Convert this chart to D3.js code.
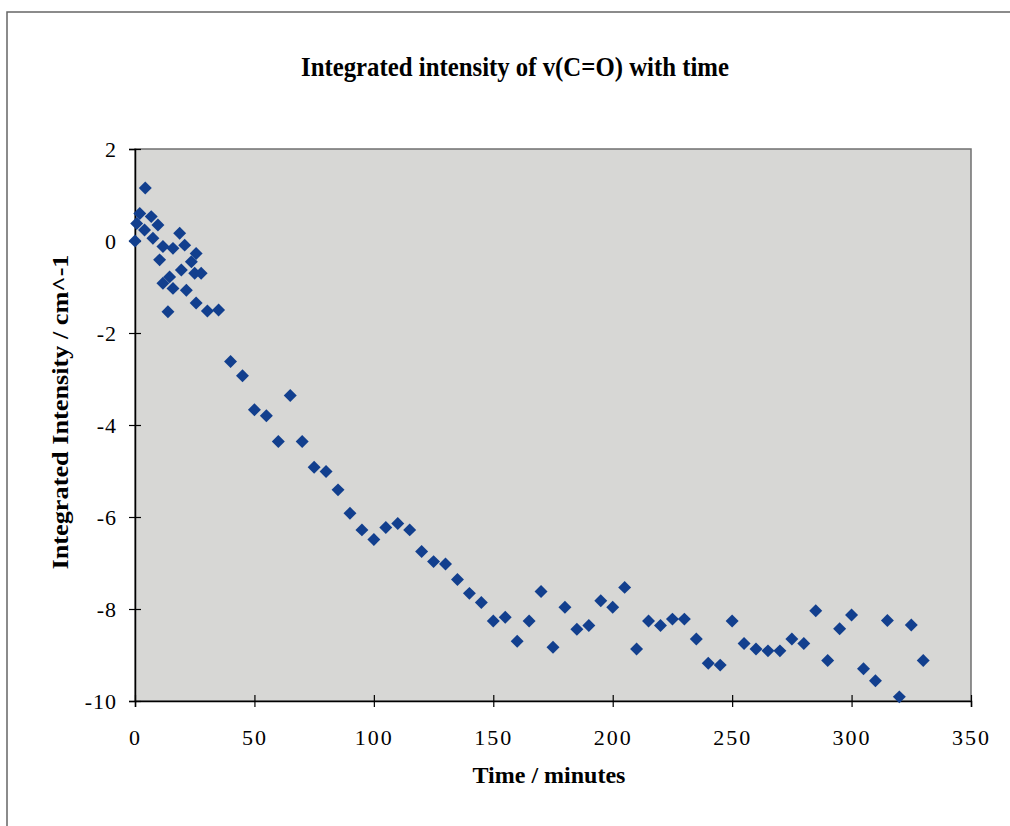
<!DOCTYPE html>
<html>
<head>
<meta charset="utf-8">
<script src="https://cdn.jsdelivr.net/npm/d3@7"></script>
<style>
  body { margin: 0; background: #fff; }
  svg { display: block; font-family: "Liberation Serif", "Times New Roman", serif; }
</style>
</head>
<body>
<svg id="chart" width="1010" height="826"></svg>
<script>
// data
const times = [
  0, 0.7, 2, 4, 4.3, 6.8, 7.5, 9.6, 10.3, 11.7, 11.7, 13.8, 14.5, 15.9, 15.9,
  18.7, 19.4, 20.8, 21.5, 23.6, 25, 25.6, 25.6, 27.7, 30.3, 35,
  40, 45, 50, 55, 60, 65, 70, 75, 80, 85, 90, 95, 100, 105, 110, 115, 120,
  125, 130, 135, 140, 145, 150, 155, 160, 165, 170, 175, 180, 185, 190, 195,
  200, 205, 210, 215, 220, 225, 230, 235, 240, 245, 250, 255, 260, 265, 270,
  275, 280, 285, 290, 295, 300, 305, 310, 315, 320, 325, 330
];
const intensity = [
  0, 0.38, 0.6, 0.24, 1.15, 0.53, 0.06, 0.35, -0.41, -0.12, -0.92, -1.54, -0.78, -0.16, -1.03,
  0.17, -0.63, -0.09, -1.07, -0.45, -0.7, -0.27, -1.35, -0.7, -1.52, -1.5,
  -2.62, -2.93, -3.67, -3.8, -4.36, -3.36, -4.36, -4.92, -5.01, -5.41, -5.92, -6.28, -6.49, -6.23, -6.14, -6.28, -6.75,
  -6.97, -7.02, -7.36, -7.66, -7.86, -8.26, -8.18, -8.7, -8.26, -7.62, -8.83, -7.96, -8.44, -8.36, -7.82,
  -7.96, -7.53, -8.87, -8.26, -8.36, -8.22, -8.22, -8.65, -9.18, -9.22, -8.26, -8.75, -8.87, -8.91, -8.91,
  -8.65, -8.75, -8.04, -9.12, -8.43, -8.13, -9.3, -9.56, -8.25, -9.91, -8.35, -9.12
];
const xTicks = [0, 50, 100, 150, 200, 250, 300, 350];
const yTicks = [2, 0, -2, -4, -6, -8, -10];

const title = "Integrated intensity of v(C=O) with time";
const xTitle = "Time / minutes";
const yTitle = "Integrated Intensity / cm^-1";

const data = times.map((t, i) => ({ t: t, v: intensity[i] }));

// plot box
const plot = { left: 135, right: 971, top: 149, bottom: 701 };

const x = d3.scaleLinear().domain([0, 350]).range([plot.left, plot.right]);
const y = d3.scaleLinear().domain([-10, 2]).range([plot.bottom, plot.top]);

const svg = d3.select("#chart");

// outer frame (runs off the right and bottom)
svg.append("rect")
  .attr("x", 7).attr("y", 12)
  .attr("width", 1200).attr("height", 1000)
  .attr("fill", "none")
  .attr("stroke", "#666")
  .attr("stroke-width", 1.5);

// title
svg.append("text")
  .attr("x", 515).attr("y", 76)
  .attr("text-anchor", "middle")
  .attr("font-size", 27)
  .attr("font-weight", "bold")
  .attr("textLength", 428)
  .attr("lengthAdjust", "spacingAndGlyphs")
  .text(title);

// plot background
svg.append("rect")
  .attr("x", plot.left).attr("y", plot.top)
  .attr("width", plot.right - plot.left)
  .attr("height", plot.bottom - plot.top)
  .attr("fill", "#d7d7d5")
  .attr("stroke", "#707070")
  .attr("stroke-width", 1.5);

// plain hyphen for negatives, like the original
const plain = (d) => String(d);

// x axis, ticks crossing the line
const xAxis = (g) =>
  g
    .attr("transform", `translate(0,${plot.bottom})`)
    .call(d3.axisBottom(x).tickValues(xTicks).tickFormat(plain).tickSize(6).tickPadding(22))
    .call((g) => g.select(".domain").attr("stroke-width", 1.5))
    .call((g) => g.selectAll(".tick line").attr("y1", -6).attr("stroke-width", 1.2))
    .call((g) =>
      g.selectAll(".tick text")
        .attr("font-size", 22)
        .attr("letter-spacing", 2)
        .attr("font-family", "Liberation Serif, serif")
        .attr("fill", "#000")
    );

const yAxis = (g) =>
  g
    .attr("transform", `translate(${plot.left},0)`)
    .call(d3.axisLeft(y).tickValues(yTicks).tickFormat(plain).tickSize(6).tickPadding(12))
    .call((g) => g.select(".domain").attr("stroke-width", 1.5))
    .call((g) => g.selectAll(".tick line").attr("x1", 6).attr("stroke-width", 1.2))
    .call((g) =>
      g.selectAll(".tick text")
        .attr("font-size", 22)
        .attr("letter-spacing", 1)
        .attr("font-family", "Liberation Serif, serif")
        .attr("fill", "#000")
    );

svg.append("g").call(xAxis);
svg.append("g").call(yAxis);

// axis titles
svg.append("text")
  .attr("x", 549).attr("y", 783)
  .attr("text-anchor", "middle")
  .attr("font-size", 24)
  .attr("font-weight", "bold")
  .text(xTitle);

svg.append("text")
  .attr("transform", "translate(68,412) rotate(-90)")
  .attr("text-anchor", "middle")
  .attr("font-size", 24)
  .attr("font-weight", "bold")
  .attr("textLength", 315)
  .attr("lengthAdjust", "spacingAndGlyphs")
  .text(yTitle);

// diamond markers
const diamond = d3.symbol().type(d3.symbolSquare).size(84);

svg.append("g")
  .selectAll("path")
  .data(data)
  .join("path")
  .attr("d", diamond)
  .attr("transform", (d) => `translate(${x(d.t)},${y(d.v)}) rotate(45)`)
  .attr("fill", "#123f8e");
</script>
</body>
</html>
